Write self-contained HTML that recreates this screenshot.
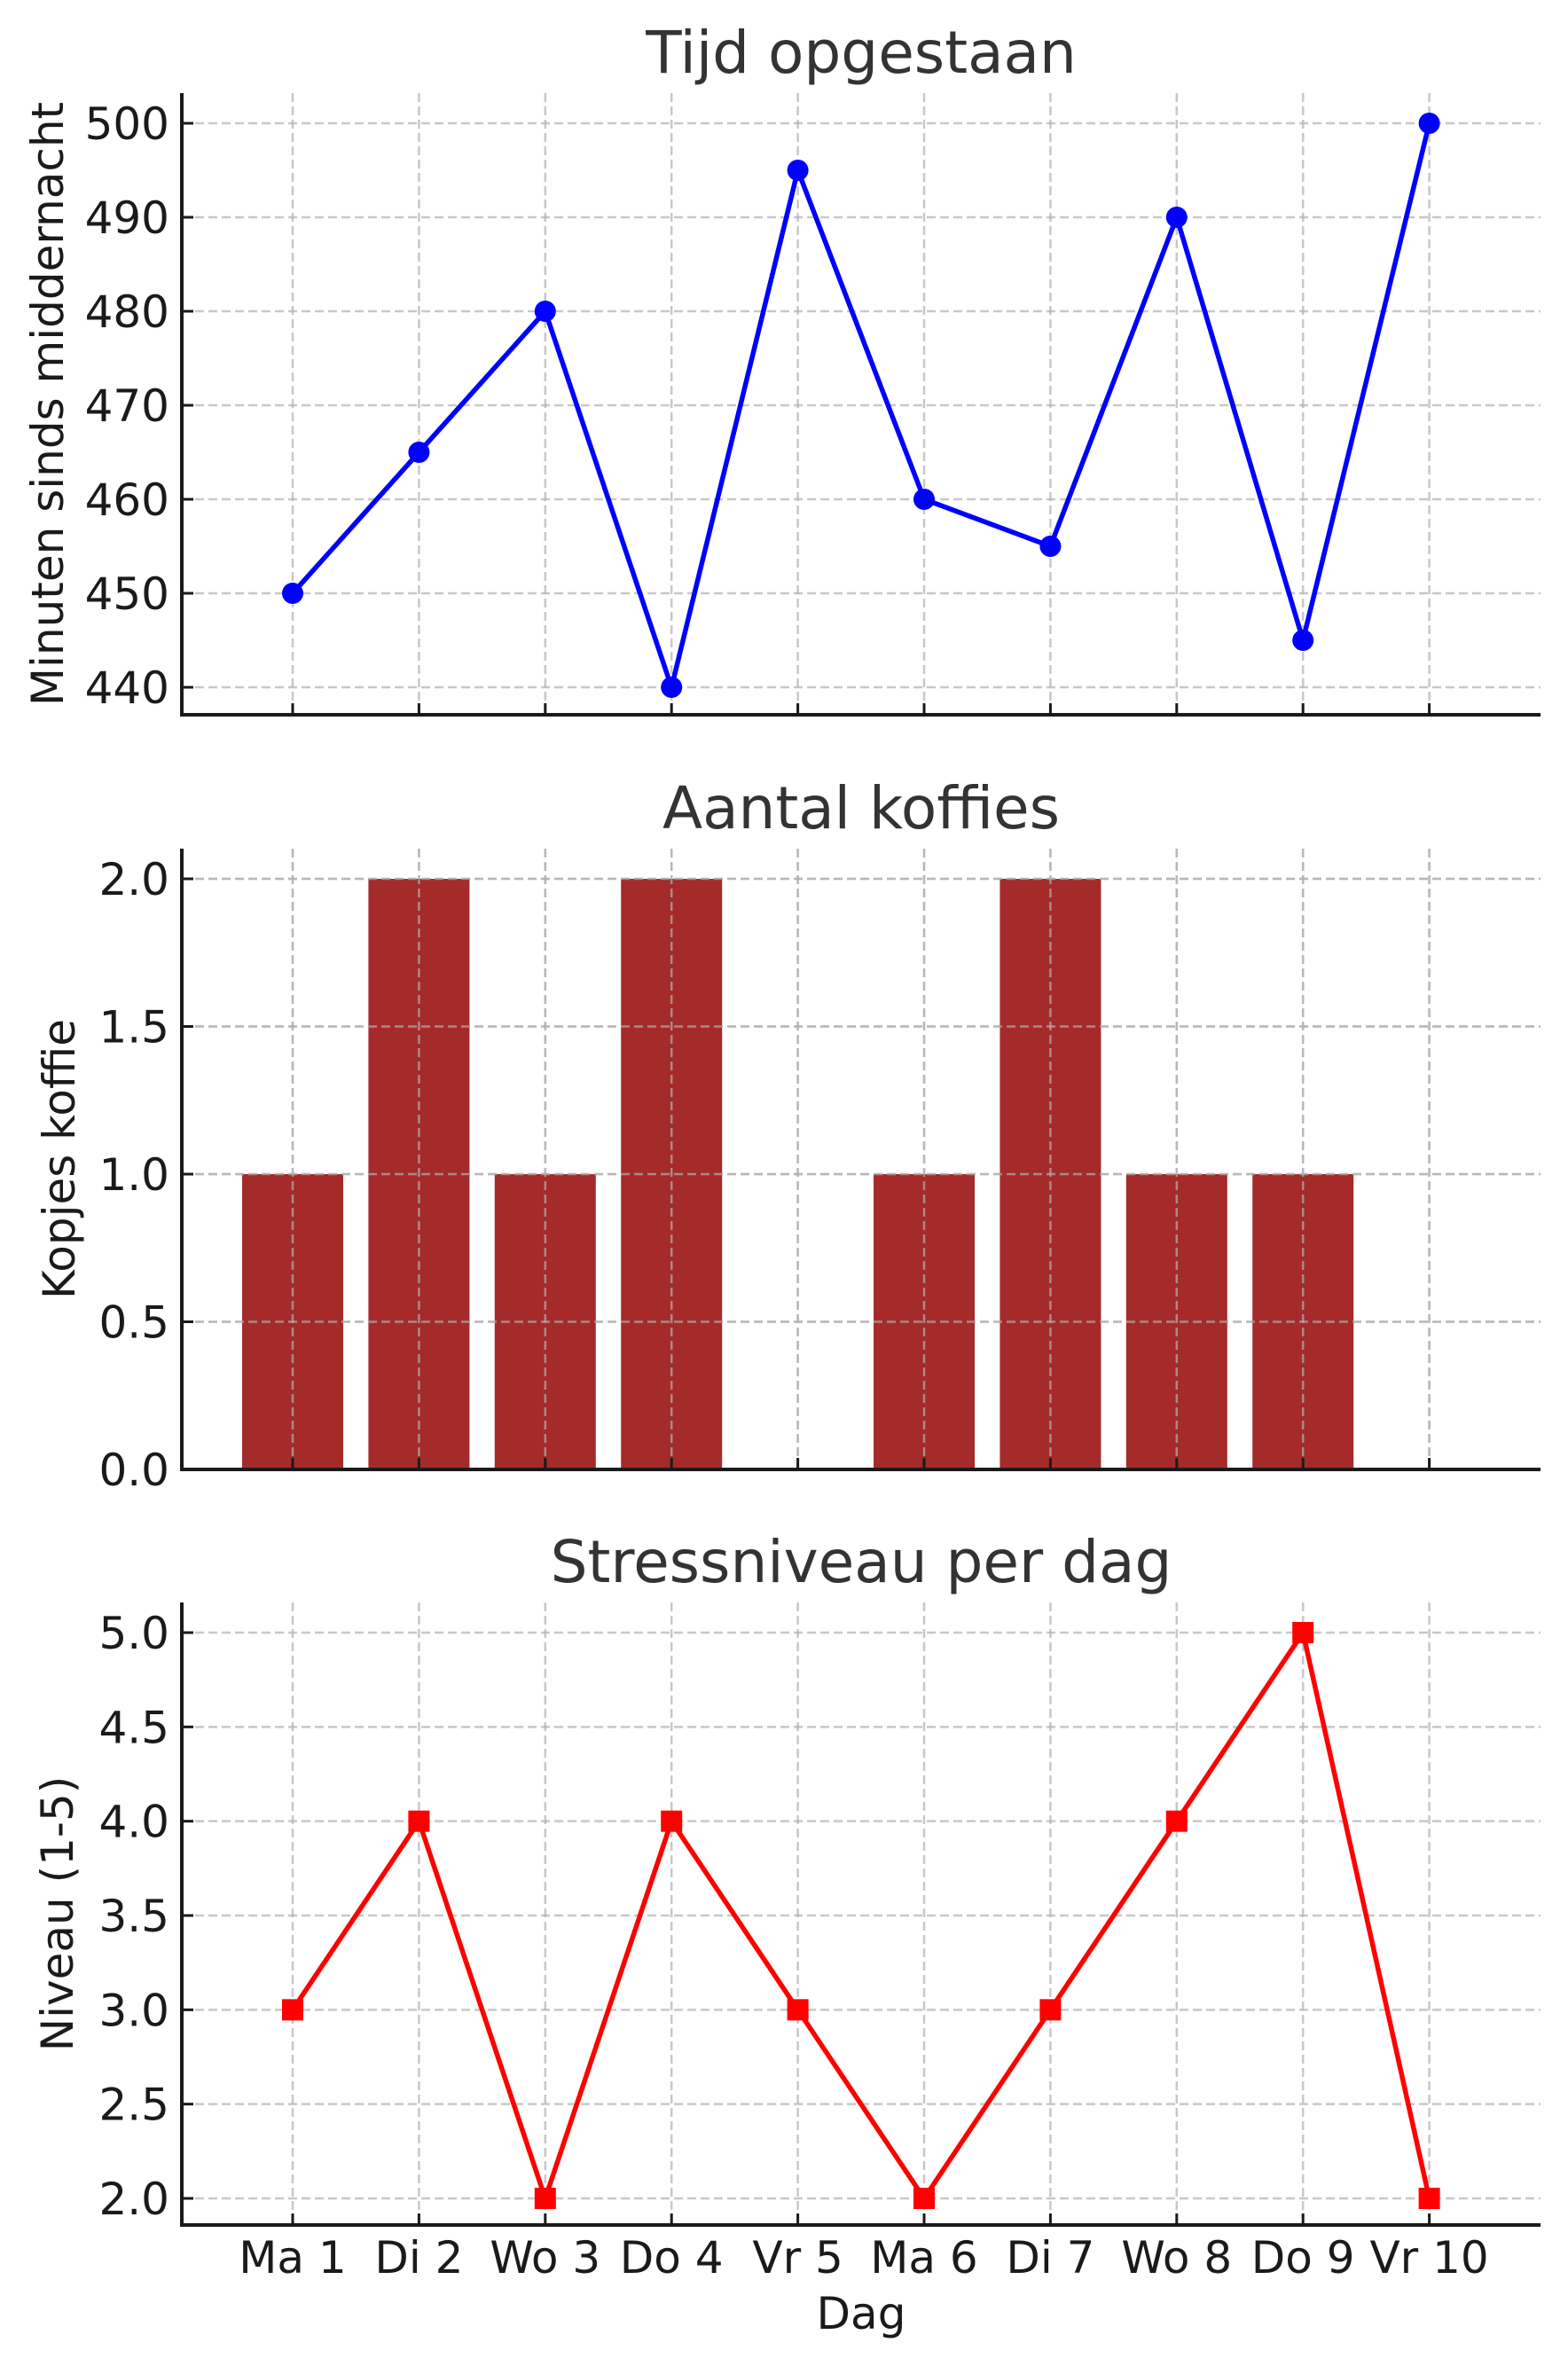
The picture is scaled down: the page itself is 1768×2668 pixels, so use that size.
<!DOCTYPE html>
<html><head><meta charset="utf-8">
<style>
html,body{margin:0;padding:0;background:#fff;}
svg{display:block;font-family:"DejaVu Sans","Liberation Sans",sans-serif;}
</style></head>
<body>
<svg id="fig" width="1768" height="2668" viewBox="0 0 1768 2668" xmlns="http://www.w3.org/2000/svg"></svg>
<script>
const categories = ["Ma 1","Di 2","Wo 3","Do 4","Vr 5","Ma 6","Di 7","Wo 8","Do 9","Vr 10"];
const wakeMinutes = [450,465,480,440,495,460,455,490,445,500];
const coffeeCups = [1,2,1,2,0,1,2,1,1,0];
const stressLevel = [3,4,2,4,3,2,3,4,5,2];
const wakeTicks = [440,450,460,470,480,490,500];
const coffeeTicks = ["0.0","0.5","1.0","1.5","2.0"];
const stressTicks = ["2.0","2.5","3.0","3.5","4.0","4.5","5.0"];

const NS="http://www.w3.org/2000/svg";
const svg=document.getElementById('fig');
function mk(tag,attrs,parent){const e=document.createElementNS(NS,tag);for(const k in attrs)e.setAttribute(k,attrs[k]);(parent||svg).appendChild(e);return e;}

const L=205, R=1737;
const x0=330, xStep=142.4;
function xs(i){return x0+i*xStep;}

function panel(cfg){
  const g=mk('g',{});
  
  
  const ys=v=>cfg.yBase+(v-cfg.vBase)*cfg.pxPer*-1;
  cfg.ticks.forEach(t=>{
    const y=ys(parseFloat(t));
    const gl=mk('line',{x1:L,x2:R,y1:y,y2:y,stroke:'#b0b0b0','stroke-opacity':0.7,'stroke-width':2.5,'stroke-dasharray':'10 5'},g);
    
    
  });
  categories.forEach((c,i)=>{
    const gl=mk('line',{x1:xs(i),x2:xs(i),y1:cfg.top,y2:cfg.bottom,stroke:'#b0b0b0','stroke-opacity':0.7,'stroke-width':2.5,'stroke-dasharray':'10 5'},g);
    
    
  });
  cfg.draw(g,ys);
  const sp1=mk('line',{x1:L,x2:L,y1:cfg.top,y2:cfg.bottom+2,stroke:'#1a1a1a','stroke-width':4},g);
  
  
  const sp2=mk('line',{x1:L-2,x2:R,y1:cfg.bottom,y2:cfg.bottom,stroke:'#1a1a1a','stroke-width':4},g);
  
  
  cfg.ticks.forEach(t=>{
    const y=ys(parseFloat(t));
    mk('line',{x1:L,x2:L+13,y1:y,y2:y,stroke:'#1a1a1a','stroke-width':3},g);
    const tl=mk('text',{x:191,y:y+18,'text-anchor':'end','font-size':50,fill:'#1a1a1a'},g);
    tl.textContent=t;
    
    
  });
  categories.forEach((c,i)=>{
    mk('line',{x1:xs(i),x2:xs(i),y1:cfg.bottom,y2:cfg.bottom-13,stroke:'#1a1a1a','stroke-width':3},g);
  });
  const tt=mk('text',{x:(L+R)/2,y:cfg.titleY,'text-anchor':'middle','font-size':66,fill:'#333'},g);
  tt.textContent=cfg.title;
  
  
  const yl=mk('text',{x:0,y:0,'text-anchor':'middle','font-size':50,fill:'#1a1a1a',transform:`translate(${cfg.ylX},${(cfg.top+cfg.bottom)/2}) rotate(-90)`},g);
  yl.textContent=cfg.ylabel;
  
  
}

panel({name:'wake-time-chart',top:105,bottom:806,yBase:775,vBase:440,pxPer:(775-139)/60,
  ticks:wakeTicks.map(String),title:'Tijd opgestaan',titleY:82,ylabel:'Minuten sinds middernacht',ylX:71,
  draw:(g,ys)=>{
    const pts=wakeMinutes.map((v,i)=>xs(i)+','+ys(v)).join(' ');
    const pl=mk('polyline',{points:pts,fill:'none',stroke:'#0000ff','stroke-width':5.5,'stroke-linejoin':'round'},g);
    
    
    wakeMinutes.forEach((v,i)=>{
      const c=mk('circle',{cx:xs(i),cy:ys(v),r:12,fill:'#0000ff'},g);
      
      
    });
  }});

panel({name:'coffee-chart',top:957,bottom:1657,yBase:1657,vBase:0,pxPer:(1657-991)/2,
  ticks:coffeeTicks,title:'Aantal koffies',titleY:934,ylabel:'Kopjes koffie',ylX:84,
  draw:(g,ys)=>{
    coffeeCups.forEach((v,i)=>{
      if(v<=0)return;
      const b=mk('rect',{x:xs(i)-57,y:ys(v),width:114,height:ys(0)-ys(v),fill:'#a52a2a'},g);
      
      
    });
    coffeeTicks.forEach(t=>{const y=ys(parseFloat(t));mk('line',{x1:L,x2:R,y1:y,y2:y,stroke:'#b0b0b0','stroke-opacity':0.7,'stroke-width':2.5,'stroke-dasharray':'10 5'},g);});
    categories.forEach((c,i)=>{mk('line',{x1:xs(i),x2:xs(i),y1:957,y2:1657,stroke:'#b0b0b0','stroke-opacity':0.7,'stroke-width':2.5,'stroke-dasharray':'10 5'},g);});
  }});

panel({name:'stress-chart',top:1807,bottom:2509,yBase:2479,vBase:2,pxPer:(2479-1841)/3,
  ticks:stressTicks,title:'Stressniveau per dag',titleY:1784,ylabel:'Niveau (1-5)',ylX:82,
  draw:(g,ys)=>{
    const pts=stressLevel.map((v,i)=>xs(i)+','+ys(v)).join(' ');
    const pl=mk('polyline',{points:pts,fill:'none',stroke:'#ff0000','stroke-width':5.5,'stroke-linejoin':'round'},g);
    
    
    stressLevel.forEach((v,i)=>{
      const s=mk('rect',{x:xs(i)-12,y:ys(v)-12,width:24,height:24,fill:'#ff0000'},g);
      
      
    });
  }});

categories.forEach((c,i)=>{
  const t=mk('text',{x:xs(i),y:2563,'text-anchor':'middle','font-size':50,fill:'#1a1a1a'});
  t.textContent=c;
  
  
});
const xl=mk('text',{x:(L+R)/2,y:2626,'text-anchor':'middle','font-size':50,fill:'#1a1a1a'});
xl.textContent='Dag';


</script>
</body></html>
